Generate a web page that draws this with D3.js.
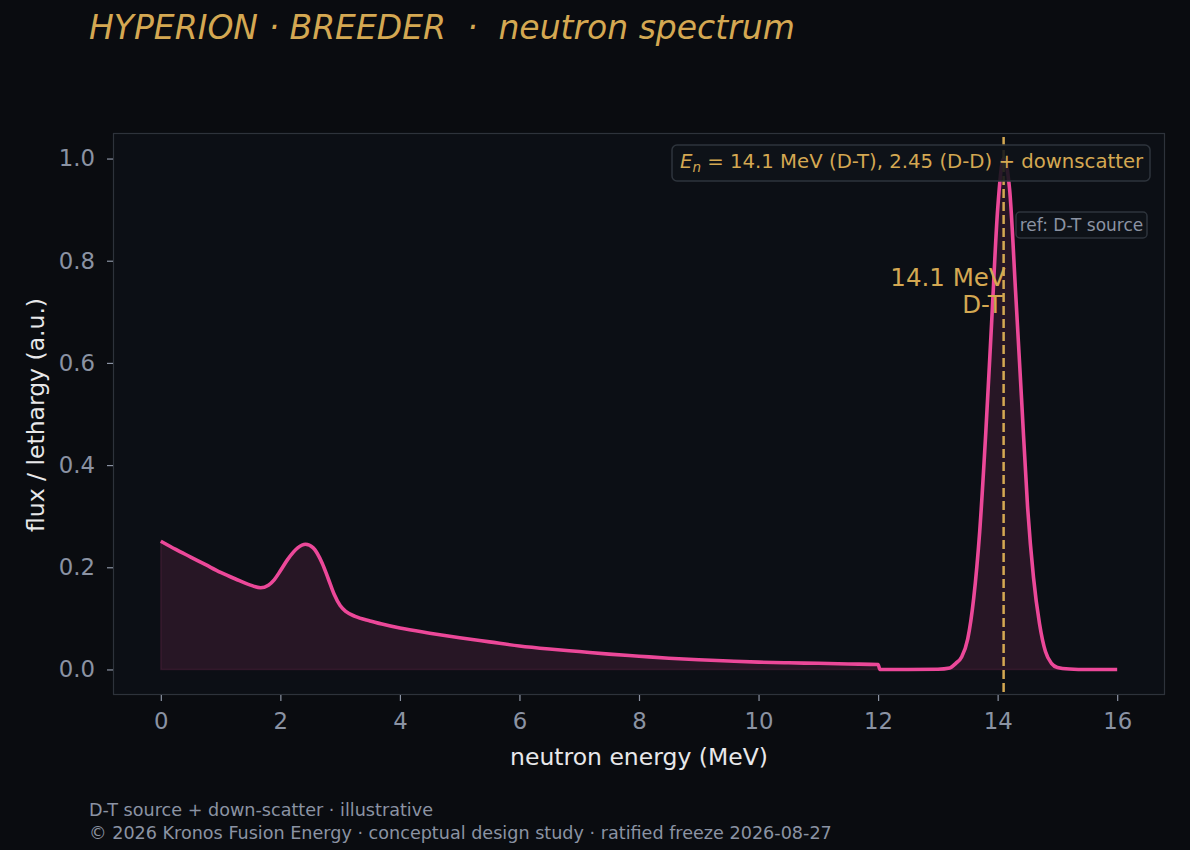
<!DOCTYPE html>
<html><head><meta charset="utf-8">
<script src="https://cdn.jsdelivr.net/npm/d3@7"></script>
<style>
html,body{margin:0;padding:0;background:#0a0c10;}
svg{display:block;font-family:"DejaVu Sans",sans-serif;}
</style></head>
<body><svg id="c" width="1190" height="850"></svg>
<script>
// Data
const energy = [0,0.25,0.5,0.75,1.0,1.25,1.5,1.67,1.8,1.9,2.0,2.12,2.29,2.42,2.55,2.7,2.8,2.9,3.0,3.1,3.25,3.5,3.7,4.0,4.5,5.0,5.5,6.0,6.5,7.0,7.5,8.0,8.5,9.0,9.5,10.0,10.5,11.0,11.5,12.0,12.03,12.5,13.0,13.2,13.3,13.4,13.5,13.6,13.7,13.8,13.9,14.0,14.1,14.2,14.3,14.4,14.5,14.6,14.7,14.8,14.9,15.0,15.2,15.5,16.0];
const flux   = [0.251,0.235,0.220,0.205,0.190,0.177,0.165,0.160,0.165,0.176,0.193,0.215,0.238,0.245,0.238,0.208,0.178,0.147,0.125,0.113,0.104,0.095,0.089,0.081,0.071,0.062,0.054,0.046,0.040,0.035,0.030,0.026,0.022,0.019,0.0165,0.0143,0.013,0.012,0.0108,0.0098,0.0,0.0,0.0005,0.003,0.012,0.025,0.06,0.14,0.27,0.46,0.68,0.90,1.0,0.94,0.74,0.53,0.32,0.18,0.09,0.035,0.012,0.004,0.001,0.0,0.0];
const xTicks = [0,2,4,6,8,10,12,14,16];
const yTicks = [0.0,0.2,0.4,0.6,0.8,1.0];
const dtEnergy = 14.1;

const titleText = "HYPERION · BREEDER  ·  neutron spectrum";
const legendRest = " = 14.1 MeV (D-T), 2.45 (D-D) + downscatter";
const refText = "ref: D-T source";
const annot = ["14.1 MeV","D-T"];
const xLabel = "neutron energy (MeV)";
const yLabel = "flux / lethargy (a.u.)";
const footer = ["D-T source + down-scatter · illustrative","© 2026 Kronos Fusion Energy · conceptual design study · ratified freeze 2026-08-27"];

const gold="#d4a852", pink="#ec4899", tick="#8b93a3", spine="#2e333b";
const L=113,R=1165,T=133,B=695;
const svg=d3.select("#c");
const data=energy.map((e,i)=>({e,f:flux[i]}));

const x=d3.scaleLinear().domain([-0.8,16.8]).range([L,R]);
const y=d3.scaleLinear().domain([-0.05,1.05]).range([B,T]);

svg.append("rect").attr("width",1190).attr("height",850).attr("fill","#0a0c10");
svg.append("rect").attr("x",L).attr("y",T).attr("width",R-L).attr("height",B-T).attr("fill","#0c0f15");

// area + line
const area=d3.area().x(d=>x(d.e)).y0(y(0)).y1(d=>y(d.f)).curve(d3.curveMonotoneX);
svg.append("path").datum(data).attr("d",area).attr("fill",pink).attr("fill-opacity",0.12)
  .attr("stroke",pink).attr("stroke-opacity",0.12).attr("stroke-width",1.5);
const line=d3.line().x(d=>x(d.e)).y(d=>y(d.f)).curve(d3.curveMonotoneX);
svg.append("path").datum(data).attr("d",line).attr("fill","none").attr("stroke",pink)
  .attr("stroke-width",3.6).attr("stroke-linejoin","round");

// dashed D-T line
svg.append("line").attr("x1",x(dtEnergy)).attr("x2",x(dtEnergy)).attr("y1",T+4).attr("y2",B)
  .attr("stroke",gold).attr("stroke-width",2.5).attr("stroke-dasharray","9,4");

// annotation
const an=svg.append("text").attr("fill",gold).attr("font-size",24.5).attr("text-anchor","end");
an.append("tspan").attr("x",x(dtEnergy)+2).attr("y",286).text(annot[0]);
an.append("tspan").attr("x",x(dtEnergy)-1).attr("y",313).text(annot[1]);

// spines
svg.append("rect").attr("x",L+0.5).attr("y",T+0.5).attr("width",R-L-1).attr("height",B-T-1)
  .attr("fill","none").attr("stroke",spine).attr("stroke-width",1.2);

// axes
const xa=svg.append("g").attr("transform",`translate(0,${B})`)
  .call(d3.axisBottom(x).tickValues(xTicks).tickFormat(d3.format("d")).tickSize(6).tickPadding(11.5));
const ya=svg.append("g").attr("transform",`translate(${L},0)`)
  .call(d3.axisLeft(y).tickValues(yTicks).tickFormat(d3.format(".1f")).tickSize(6).tickPadding(12));
[xa,ya].forEach(g=>{
  g.select(".domain").remove();
  g.selectAll(".tick line").attr("stroke",tick).attr("stroke-width",1.2);
  g.selectAll(".tick text").attr("fill",tick).attr("font-size",22.8).attr("font-family","DejaVu Sans");
});

// axis labels
svg.append("text").attr("x",(L+R)/2).attr("y",764.5).attr("text-anchor","middle")
  .attr("fill","#e8e8ea").attr("font-size",23.5).text(xLabel);
svg.append("text").attr("transform",`translate(44,${(T+B)/2+1}) rotate(-90)`).attr("text-anchor","middle")
  .attr("fill","#e8e8ea").attr("font-size",23.5).text(yLabel);

// legend box
svg.append("rect").attr("x",672).attr("y",145).attr("width",478).attr("height",36).attr("rx",5)
  .attr("fill","#0f1319").attr("fill-opacity",0.88).attr("stroke","#2e343c").attr("stroke-width",1.5);
const lg=svg.append("text").attr("x",680).attr("y",168).attr("fill",gold).attr("font-size",19.7)
  .style("white-space","pre");
lg.append("tspan").attr("font-style","italic").text("E");
lg.append("tspan").attr("font-style","italic").attr("font-size",13.5).attr("dy",4).text("n");
lg.append("tspan").attr("dy",-4).text(legendRest);

// ref box
svg.append("rect").attr("x",1016).attr("y",212).attr("width",131).attr("height",26).attr("rx",4)
  .attr("fill","#0f1319").attr("fill-opacity",0.88).attr("stroke","#2e343c").attr("stroke-width",1.5);
svg.append("text").attr("x",1081.5).attr("y",230.5).attr("text-anchor","middle").attr("fill",tick)
  .attr("font-size",17).text(refText);

// title
svg.append("text").attr("x",89).attr("y",39).attr("fill",gold).attr("font-size",33)
  .attr("font-style","italic").style("white-space","pre").text(titleText);

// footer
svg.append("text").attr("x",89).attr("y",816).attr("fill",tick).attr("font-size",17.6).text(footer[0]);
svg.append("text").attr("x",89).attr("y",839).attr("fill",tick).attr("font-size",17.6).text(footer[1]);
</script></body></html>
